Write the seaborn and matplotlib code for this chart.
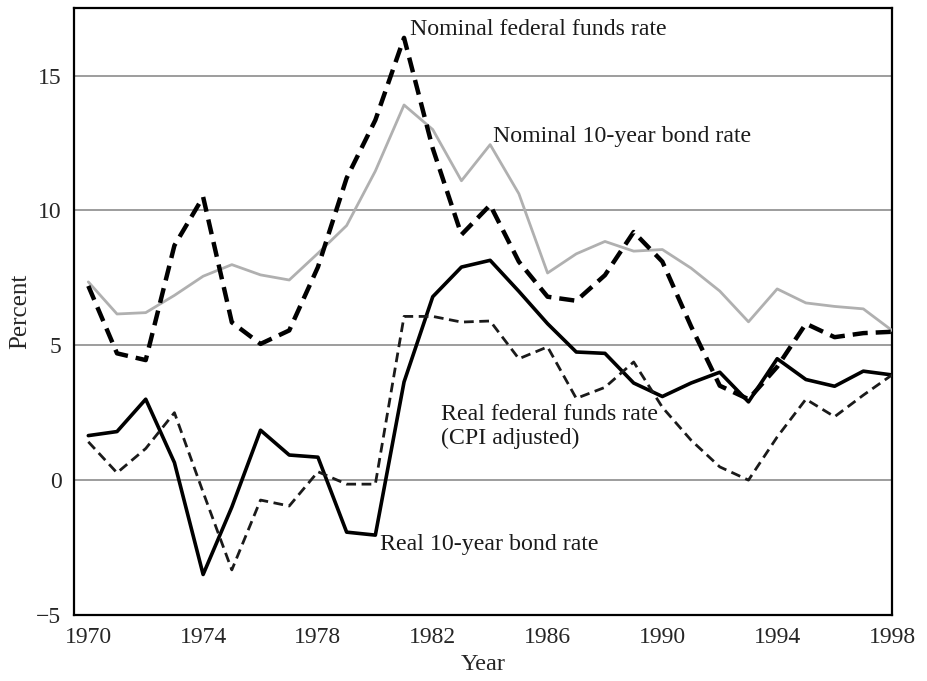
import numpy as np
import pandas as pd
import matplotlib
matplotlib.use("Agg")
import matplotlib.pyplot as plt
import seaborn as sns

# данные
years = list(range(1970, 1999))
nominal_ff = [7.2, 4.7, 4.45, 8.7, 10.5, 5.85, 5.05, 5.55, 7.9, 11.2, 13.35, 16.4,
              12.3, 9.1, 10.2, 8.1, 6.8, 6.65, 7.6, 9.2, 8.1, 5.7, 3.5, 3.0,
              4.2, 5.8, 5.3, 5.45, 5.5]
nominal_10y = [7.35, 6.16, 6.21, 6.85, 7.56, 7.99, 7.61, 7.42, 8.41, 9.44, 11.46, 13.91,
               13.0, 11.1, 12.44, 10.62, 7.68, 8.39, 8.85, 8.49, 8.55, 7.86, 7.01, 5.87,
               7.09, 6.57, 6.44, 6.35, 5.55]
real_10y = [1.65, 1.8, 3.0, 0.65, -3.5, -1.0, 1.85, 0.93, 0.85, -1.93, -2.04, 3.64,
            6.8, 7.9, 8.15, 7.0, 5.8, 4.75, 4.7, 3.6, 3.1, 3.6, 4.0, 2.9,
            4.5, 3.73, 3.48, 4.04, 3.9]
real_ff = [1.42, 0.27, 1.17, 2.5, -0.45, -3.33, -0.74, -0.96, 0.31, -0.15, -0.15, 6.07,
           6.07, 5.86, 5.9, 4.5, 4.94, 3.03, 3.44, 4.38, 2.7, 1.48, 0.49, 0.0,
           1.6, 3.0, 2.35, 3.15, 3.9]

df = pd.DataFrame({'year': years, 'nominal_ff': nominal_ff, 'nominal_10y': nominal_10y,
                   'real_10y': real_10y, 'real_ff': real_ff})

sns.set_style("white")
plt.rcParams['font.family'] = ['Liberation Serif', 'DejaVu Serif']

fig = plt.figure(figsize=(9.28, 6.81), dpi=100)
ax = fig.add_axes([0.0797, 0.097, 0.8815, 0.891])

# сетка
for v in [0, 5, 10, 15]:
    ax.axhline(v, color='#8c8c8c', lw=1.2, zorder=1)

sns.lineplot(x='year', y='nominal_10y', data=df, ax=ax, color='#b0b0b0', lw=2.0, zorder=3)
sns.lineplot(x='year', y='real_10y', data=df, ax=ax, color='black', lw=2.6, zorder=4)
sns.lineplot(x='year', y='real_ff', data=df, ax=ax, color='#1a1a1a', lw=2.0, zorder=4)
ax.lines[-1].set_dashes([3.5, 2.0])
sns.lineplot(x='year', y='nominal_ff', data=df, ax=ax, color='black', lw=3.2, zorder=5)
ax.lines[-1].set_dashes([3.4, 1.8])

ax.set_xlim(1969.5, 1998)
ax.set_ylim(-5, 17.5)
ax.set_xticks(range(1970, 1999, 4))
ax.set_xticks(range(1970, 1999), minor=True)
ax.set_yticks([-5, 0, 5, 10, 15])
ax.set_yticklabels(['\u22125', '0', '5', '10', '15'])
ax.tick_params(axis='x', which='both', direction='in', length=6, width=1.2,
               labelsize=17, pad=9, color='black')
ax.tick_params(axis='y', length=0, labelsize=17, pad=9)
for s in ax.spines.values():
    s.set_color('black')
    s.set_linewidth(1.6)

ax.set_xlabel('Year', fontsize=17.5, labelpad=4)
ax.set_ylabel('Percent', fontsize=18, labelpad=4)

kw = dict(fontsize=17.2, color='#1a1a1a')
ax.text(1981.2, 16.7, 'Nominal federal funds rate', va='center', ha='left', **kw)
ax.text(1984.1, 12.75, 'Nominal 10-year bond rate', va='center', ha='left', **kw)
ax.text(1982.3, 2.45, 'Real federal funds rate', va='center', ha='left', **kw)
ax.text(1982.3, 1.55, '(CPI adjusted)', va='center', ha='left', **kw)
ax.text(1980.15, -2.4, 'Real 10-year bond rate', va='center', ha='left', **kw)

fig.savefig('out.png', dpi=100)
